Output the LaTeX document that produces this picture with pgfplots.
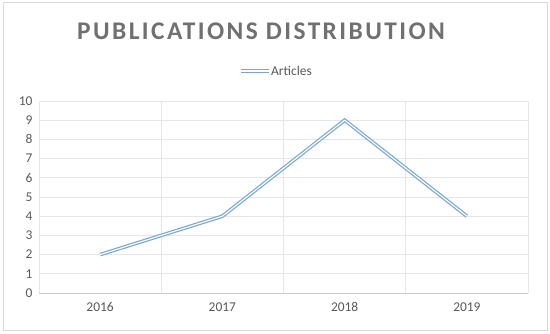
\documentclass[border=0pt]{standalone}
\usepackage{pgfplots}
\pgfplotsset{compat=1.18}
\usepackage{fontspec}
\setmainfont{Carlito}
\newfontfamily\titlefont[LetterSpace=9.5]{Carlito}
\definecolor{linec}{RGB}{120,166,212}
\definecolor{gridc}{RGB}{230,230,230}
\definecolor{axisc}{RGB}{205,205,205}
\definecolor{textc}{RGB}{89,89,89}
\definecolor{titlec}{RGB}{112,112,112}
\definecolor{borderc}{RGB}{217,217,217}
\begin{document}
\begin{tikzpicture}[x=1bp,y=1bp]
\path (0,0) rectangle (550,333);
\draw[borderc, line width=1bp] (3,3) rectangle (547,330);
\node[font=\titlefont\bfseries\fontsize{25.5}{30}\selectfont, text=titlec] at (261,302) {PUBLICATIONS DISTRIBUTION};
\draw[linec, line width=1.2bp, double=white, double distance=1.2bp] (241,262) -- (269,262);
\begin{axis}[
  at={(39bp,40bp)}, anchor=south west,
  scale only axis, width=489bp, height=192bp,
  xmin=-0.5, xmax=3.5, ymin=0, ymax=10,
  xtick={0,1,2,3}, xticklabels={2016,2017,2018,2019},
  minor xtick={-0.5,0.5,1.5,2.5,3.5},
  ytick={0,1,...,10},
  ymajorgrids, xminorgrids,
  major grid style={gridc, line width=0.8bp},
  minor grid style={gridc, line width=0.8bp},
  axis line style={draw=none},
  tick style={draw=none},
  minor tick style={draw=none},
  ticklabel style={font=\fontsize{13.5}{16}\selectfont, text=textc},
  /pgf/number format/assume math mode=true,
  yticklabel style={xshift=-3bp},
  xticklabel style={yshift=-6bp},
  clip=false,
]
\draw[axisc, line width=1bp] (axis cs:-0.5,0) -- (axis cs:3.5,0);
\addplot[linec, line width=1.2bp, double=white, double distance=1.2bp, line join=miter] coordinates {(0,2) (1,4) (2,9) (3,4)};
\end{axis}
\node[anchor=west, font=\fontsize{13.5}{16}\selectfont, text=textc, inner sep=0pt] at (271,262) {Articles};
\end{tikzpicture}
\end{document}
